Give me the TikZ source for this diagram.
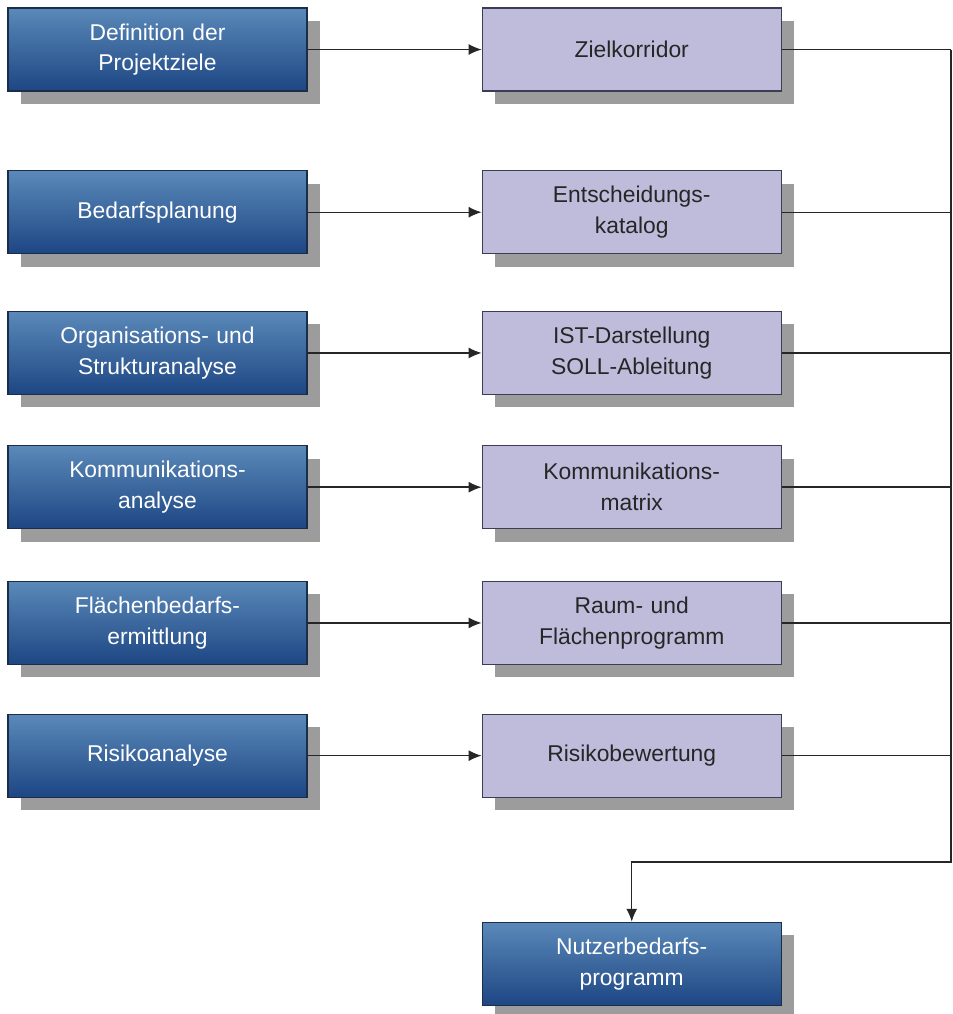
\documentclass[tikz,border=0pt]{standalone}
\usepackage{fontspec}
\setmainfont{Liberation Sans}
\usetikzlibrary{arrows.meta,positioning,shadows}
\definecolor{bluetop}{HTML}{5A89B9}
\definecolor{bluebottom}{HTML}{1D4683}
\definecolor{blueedge}{HTML}{1A2E4A}
\definecolor{lavender}{HTML}{BFBBDB}
\definecolor{lavedge}{HTML}{3C3C55}
\definecolor{shadowgray}{HTML}{9C9C9C}
\tikzset{
  basebox/.style={rectangle, line width=0.7pt, align=center, text width=5.6cm,
              minimum width=5.98cm, minimum height=1.66cm, inner sep=2pt,
              font=\fontsize{13}{17.5}\selectfont,
              general shadow={fill=shadowgray, shadow xshift=0.26cm, shadow yshift=-0.26cm}},
  task/.style={basebox, draw=blueedge, top color=bluetop, bottom color=bluebottom, text=white},
  result/.style={basebox, draw=lavedge, fill=lavender, text=black!85},
  arr/.style={-{Latex[length=2.6mm, width=2.2mm]}, line width=0.8pt, black!85},
  link/.style={line width=0.8pt, black!85}
}

\begin{document}
\begin{tikzpicture}
    \useasboundingbox (0,0) rectangle (19.06,-20.28);
    % linke Spalte
    \node[task] (D1) at (3.15,-0.99) {Definition der\\Projektziele};
    \node[task, below=1.57cm of D1] (D2) {Bedarfsplanung};
    \node[task, below=1.13cm of D2] (D3) {Organisations- und\\Strukturanalyse};
    \node[task, below=1.0cm of D3] (D4) {Kommunikations-\\analyse};
    \node[task, below=1.03cm of D4] (D5) {Flächenbedarfs-\\ermittlung};
    \node[task, below=0.97cm of D5] (D6) {Risikoanalyse};
    % rechte Spalte
    \node[result, right=3.48cm of D1] (E1) {Zielkorridor};
    \node[result, right=3.48cm of D2] (E2) {Entscheidungs-\\katalog};
    \node[result, right=3.48cm of D3] (E3) {IST-Darstellung\\SOLL-Ableitung};
    \node[result, right=3.48cm of D4] (E4) {Kommunikations-\\matrix};
    \node[result, right=3.48cm of D5] (E5) {Raum- und\\Flächenprogramm};
    \node[result, right=3.48cm of D6] (E6) {Risikobewertung};
    \node[task, below=2.48cm of E6] (N) {Nutzerbedarfs-\\programm};
    \coordinate (J) at (19.02,-17.24);
    \foreach \i in {1,...,6} {
      \draw[arr] (D\i) -- (E\i);
      \draw[link] (E\i.east) -- (E\i.east -| J);
    }
    \draw[arr] (E1.east -| J) -- (J) -| (N.north);
\end{tikzpicture}
\end{document}
